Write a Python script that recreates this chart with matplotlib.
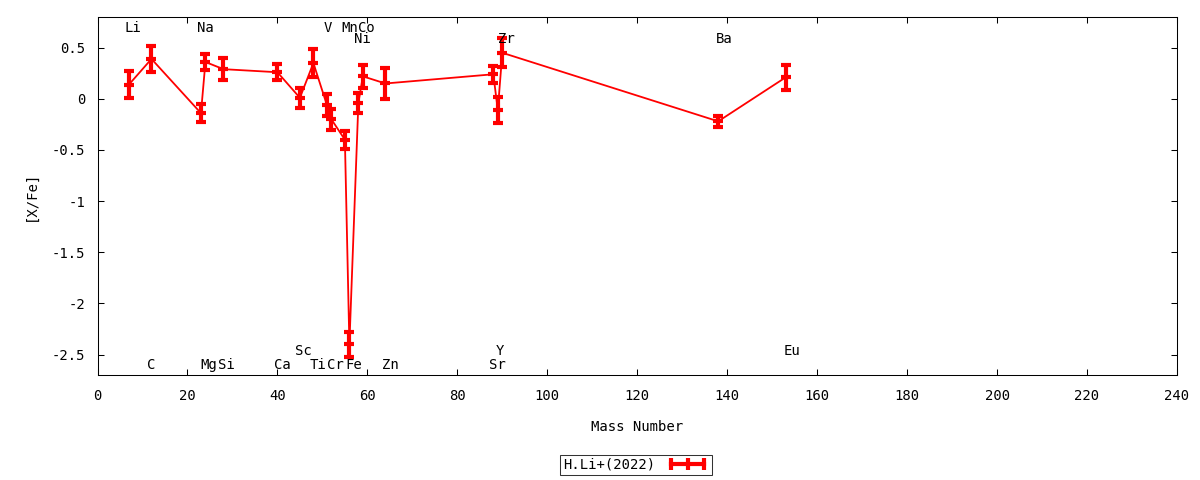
import matplotlib
matplotlib.use("Agg")
import matplotlib.pyplot as plt
from matplotlib.lines import Line2D

elements = ['Li', 'C', 'Na', 'Mg', 'Si', 'Ca', 'Sc', 'Ti', 'V', 'Cr',
            'Mn', 'Fe', 'Ni', 'Co', 'Zn', 'Sr', 'Y', 'Zr', 'Ba', 'Eu']
mass = [7, 12, 23, 24, 28, 40, 45, 48, 51, 52,
        55, 56, 58, 59, 64, 88, 89, 90, 138, 153]
xfe = [0.14, 0.39, -0.14, 0.36, 0.29, 0.26, 0.01, 0.35, -0.06, -0.20,
       -0.40, -2.40, -0.04, 0.22, 0.15, 0.24, -0.11, 0.45, -0.22, 0.21]
err = [0.13, 0.13, 0.085, 0.075, 0.11, 0.08, 0.095, 0.14, 0.11, 0.10,
       0.09, 0.12, 0.10, 0.11, 0.155, 0.085, 0.13, 0.14, 0.055, 0.12]
series_name = 'H.Li+(2022)'

# label rows: 'top', 'top2', 'bot', 'bot2'
label_row = ['top', 'bot', 'top', 'bot', 'bot', 'bot', 'bot2', 'bot', 'top', 'bot',
             'top', 'bot', 'top2', 'top', 'bot', 'bot', 'bot2', 'top2', 'top2', 'bot2']
label_dx = [0.9, -0.1, 0.9, 0.8, 0.6, 1.1, 0.8, 1.1, 0.1, 0.9,
            1.0, 0.9, 0.9, 0.8, 1.1, 1.0, 0.4, 1.0, 1.3, 1.5]
row_y = {'top': 0.696, 'top2': 0.588, 'bot': -2.598, 'bot2': -2.461}

FONT = 'DejaVu Sans Mono'
FS = 10
RED = '#ff0000'

fig = plt.figure(figsize=(12, 4.8), dpi=100)
ax = fig.add_axes([97.5 / 1200, 1 - 375 / 480, (1177 - 97.5) / 1200, (375 - 17) / 480])

ax.errorbar(mass, xfe, yerr=err, color=RED, lw=1.3, elinewidth=3, capsize=3.5,
            capthick=3, marker='_', markersize=7, mew=3, zorder=3)

for el, m, row, dx in zip(elements, mass, label_row, label_dx):
    ax.text(m + dx, row_y[row], el, ha='center', va='center',
            family=FONT, fontsize=FS, color='black')

ax.set_xlim(0, 240)
ax.set_ylim(-2.7, 0.8)
ax.set_xticks(range(0, 241, 20))
ax.set_yticks([-2.5, -2, -1.5, -1, -0.5, 0, 0.5])
ax.set_yticklabels(['-2.5', '-2', '-1.5', '-1', '-0.5', '0', '0.5'])
ax.tick_params(direction='in', length=4.5, width=0.75, top=True, right=True,
               labelsize=FS)
ax.tick_params(axis='x', pad=10)
ax.tick_params(axis='y', pad=9)
for lab in ax.get_xticklabels() + ax.get_yticklabels():
    lab.set_family(FONT)
for sp in ax.spines.values():
    sp.set_linewidth(0.75)

ax.set_xlabel('Mass Number', family=FONT, fontsize=FS, labelpad=12)
ax.set_ylabel('[X/Fe]', family=FONT, fontsize=FS, labelpad=10)

handle = Line2D([], [], color=RED, lw=3, marker='|', markersize=8, mew=3)
leg = fig.legend([handle], [series_name], loc='center', bbox_to_anchor=(636 / 1200, 1 - 465 / 480),
                 numpoints=3, markerfirst=False, frameon=True, fancybox=False,
                 prop={'family': FONT, 'size': FS}, handlelength=3.0,
                 borderpad=0.25, handletextpad=0.8, borderaxespad=0)
leg.get_frame().set_edgecolor('black')
leg.get_frame().set_linewidth(0.75)

fig.savefig('out.png', dpi=100)
